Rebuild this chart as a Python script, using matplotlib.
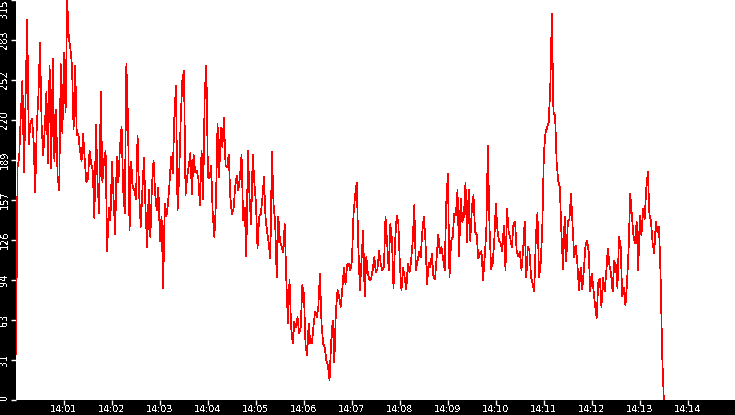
import numpy as np
import pandas as pd
import matplotlib
matplotlib.use('Agg')
import matplotlib.pyplot as plt

plt.rcParams['text.antialiased'] = False

# readings every 2 seconds, starting 14:00:00
seg_1 = [36, 183, 191, 224, 251, 179, 238, 299, 201, 218, 221, 204, 163, 216, 239, 281, 217, 192,
         214, 242, 186, 263, 182, 268, 188, 228, 176, 165, 264, 210, 273, 226, 314, 285, 276, 263,
         213, 263, 208, 209, 196, 188, 209, 188, 171, 174, 196, 186, 180, 143, 216, 171, 147]
seg_2 = [242, 171, 188, 196, 117, 151, 141, 187, 158, 130, 191, 171, 199, 215, 165, 147, 264, 221,
         133, 187, 167, 165, 158, 208, 161, 136, 165, 190, 149, 120, 165, 128, 169, 188, 162, 149,
         167, 125, 144, 88, 154, 144, 154, 171, 191, 178, 222, 247, 149, 176, 222, 251, 259]
seg_3 = [161, 175, 184, 194, 162, 193, 179, 180, 174, 153, 196, 158, 242, 263, 175, 174, 184, 146,
         128, 155, 217, 175, 214, 199, 222, 184, 183, 193, 159, 146, 150, 167, 176, 165, 175, 193,
         141, 151, 113, 196, 159, 138, 193, 171, 155, 119, 144, 146, 158, 175, 143, 132]
seg_4 = [123, 111, 195, 154, 140, 96, 144, 125, 121, 116, 138, 94, 60, 94, 57, 44, 61, 57, 65, 52,
         57, 90, 83, 43, 35, 60, 44, 44, 58, 69, 65, 73, 99, 60, 44, 41, 31, 27, 15, 45, 62, 29, 70,
         86, 81, 73, 87, 104, 91, 106, 107, 102, 109]
seg_5 = [146, 161, 171, 121, 86, 109, 133, 81, 112, 99, 94, 95, 102, 112, 100, 103, 117, 107, 102,
         104, 144, 124, 102, 138, 127, 88, 124, 145, 140, 106, 86, 104, 96, 87, 107, 100, 109, 125,
         153, 102, 109, 116, 112, 132, 144, 124, 91, 108]
seg_6 = [104, 115, 96, 95, 112, 130, 115, 120, 111, 102, 155, 178, 96, 125, 128, 146, 145, 165, 113,
         158, 140, 144, 171, 124, 165, 125, 151, 161, 132, 130, 111, 115, 117, 94, 112, 132, 200,
         136, 103, 107, 125, 154, 133, 125, 123, 117, 137, 102, 150]
seg_7 = [132, 127, 120, 138, 140, 117, 113, 116, 102, 117, 140, 96, 120, 117, 96, 91, 85, 128, 147,
         96, 107, 134, 193, 210, 214, 218, 245, 304, 226, 224, 187, 172, 167, 130, 103, 144, 109,
         140, 142, 162, 136, 112, 121, 106, 86, 104, 87, 102, 121]
seg_8 = [125, 117, 85, 99, 87, 74, 64, 92, 95, 73, 96, 85, 100, 119, 106, 99, 85, 109, 106, 88, 128,
         121, 81, 88, 74, 92, 119, 162, 145, 129, 123, 140, 102, 145, 129, 150, 142, 166, 179, 146,
         140, 123, 115, 140, 132, 136, 96, 34, 0]

y_tick_labels = ['0', '31', '63', '94', '126', '157', '189', '220', '252', '283', '315']
x_tick_labels = ['14:01', '14:02', '14:03', '14:04', '14:05', '14:06', '14:07',
                 '14:08', '14:09', '14:10', '14:11', '14:12', '14:13', '14:14']

day = '2024-01-01 '
values = np.concatenate([seg_1, seg_2, seg_3, seg_4, seg_5, seg_6, seg_7, seg_8])
times = pd.date_range(day + '14:00:00', periods=len(values), freq='2s')

fig = plt.figure(figsize=(7.35, 4.15), dpi=100, facecolor='black')
ax = fig.add_axes([16 / 735, 15.5 / 415, 719 / 735, 400 / 415])
ax.set_facecolor('white')

ax.plot(times, values, color='#ff0000', linewidth=0.5, antialiased=False)

ax.set_ylim(0, 315)
ax.set_xlim(pd.Timestamp(day + '14:00:00'), pd.Timestamp(day + '14:14:59'))
for s in ax.spines.values():
    s.set_visible(False)

ax.set_yticks(np.arange(len(y_tick_labels)) * 31.5)
ax.set_yticklabels(y_tick_labels)
ax.set_xticks([pd.Timestamp(day + t) for t in x_tick_labels])
ax.set_xticklabels(x_tick_labels)

ax.tick_params(axis='y', colors='white', length=3.5, width=1, pad=1, labelsize=7, labelrotation=90)
ax.tick_params(axis='x', colors='white', length=3.5, width=1, pad=0.5, labelsize=6.8)

ylabels = ax.get_yticklabels()
for lbl in ylabels:
    lbl.set_va('center')
ylabels[0].set_va('bottom')
ylabels[-1].set_va('top')

fig.savefig('out.png', dpi=100, facecolor='black')
